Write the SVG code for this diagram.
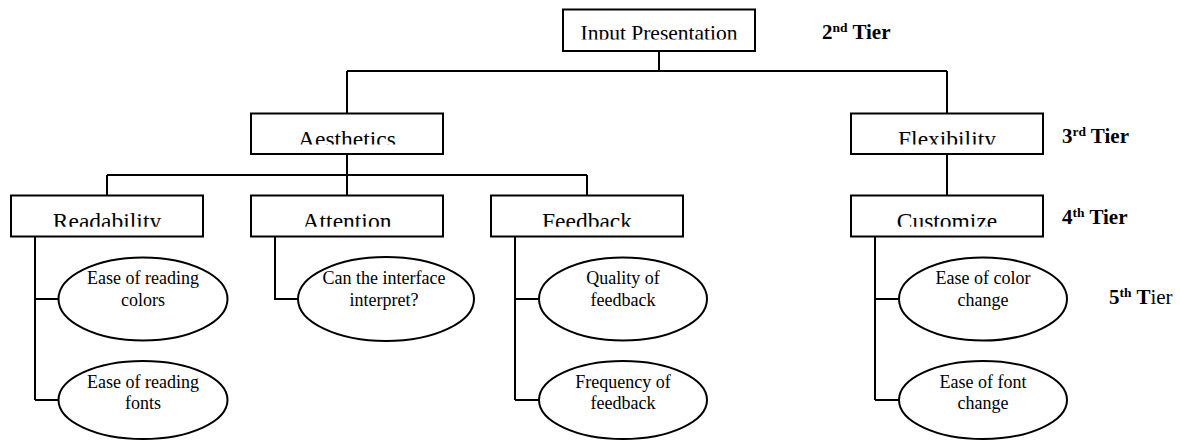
<svg xmlns="http://www.w3.org/2000/svg" width="1180" height="440" viewBox="0 0 1180 440">
  <style>
    .box { fill: #fff; stroke: #000; stroke-width: 2; }
    .oval { fill: #fff; stroke: #000; stroke-width: 2; }
    .wire { fill: none; stroke: #000; stroke-width: 2; }
    .lbl { font-family: "Liberation Serif", "Times New Roman", serif; font-size: 23.5px; fill: #000; text-anchor: middle; }
    .top { font-size: 21.5px; }
    .sub { font-family: "Liberation Serif", "Times New Roman", serif; font-size: 18px; fill: #000; text-anchor: middle; }
    .tier { font-family: "Liberation Serif", "Times New Roman", serif; font-size: 21px; font-weight: bold; fill: #000; }
    .sup { font-size: 13.5px; }
    .plain { font-weight: normal; }
  </style>
  <defs>
    <!-- box captions are cut off just above their baseline -->
    <clipPath id="cInput"><rect x="563" y="9" width="192" height="30.5"/></clipPath>
    <clipPath id="cAes"><rect x="251" y="113" width="192" height="31.5"/></clipPath>
    <clipPath id="cFlex"><rect x="851" y="113" width="192" height="31.5"/></clipPath>
    <clipPath id="cRead"><rect x="11" y="195" width="192" height="31.7"/></clipPath>
    <clipPath id="cAtt"><rect x="251" y="195" width="192" height="31.7"/></clipPath>
    <clipPath id="cFeed"><rect x="491" y="195" width="192" height="31.7"/></clipPath>
    <clipPath id="cCust"><rect x="851" y="195" width="192" height="31.7"/></clipPath>
  </defs>

  <g id="connectors">
    <path class="wire" d="M659 51 V71 M347 71 H947 M347 71 V113.5 M947 71 V113.5"/>
    <path class="wire" d="M347 154 V175 M107 175 H587 M107 175 V195.5 M347 175 V195.5 M587 175 V195.5"/>
    <path class="wire" d="M947 154 V195.5"/>
    <path class="wire" d="M35 236.5 V400 M35 299 H58.5 M35 400 H58.5"/>
    <path class="wire" d="M275 236.5 V299 H298"/>
    <path class="wire" d="M515 236.5 V400 M515 299 H539 M515 400 H539"/>
    <path class="wire" d="M875 236.5 V400 M875 299 H899 M875 400 H899"/>
  </g>

  <g id="input-presentation">
    <rect class="box" x="563" y="9.5" width="192" height="41.5"/>
    <text class="lbl top" x="659" y="40" clip-path="url(#cInput)">Input Presentation</text>
  </g>

  <g id="aesthetics">
    <rect class="box" x="251" y="113.5" width="192" height="40.5"/>
    <text class="lbl" x="347" y="146.8" clip-path="url(#cAes)">Aesthetics</text>
  </g>

  <g id="flexibility">
    <rect class="box" x="851" y="113.5" width="192" height="40.5"/>
    <text class="lbl" x="947" y="146.8" clip-path="url(#cFlex)">Flexibility</text>
  </g>

  <g id="readability">
    <rect class="box" x="11" y="195.5" width="192" height="41"/>
    <text class="lbl" x="107" y="229" clip-path="url(#cRead)">Readability</text>
  </g>

  <g id="attention">
    <rect class="box" x="251" y="195.5" width="192" height="41"/>
    <text class="lbl" x="347" y="229" clip-path="url(#cAtt)">Attention</text>
  </g>

  <g id="feedback">
    <rect class="box" x="491" y="195.5" width="192" height="41"/>
    <text class="lbl" x="587" y="229" clip-path="url(#cFeed)">Feedback</text>
  </g>

  <g id="customize">
    <rect class="box" x="851" y="195.5" width="192" height="41"/>
    <text class="lbl" x="947" y="229" clip-path="url(#cCust)">Customize</text>
  </g>

  <g id="reading-colors">
    <ellipse class="oval" cx="143" cy="299" rx="84.5" ry="41.5"/>
    <text class="sub" x="143" y="284">Ease of reading</text>
    <text class="sub" x="143" y="306">colors</text>
  </g>

  <g id="reading-fonts">
    <ellipse class="oval" cx="143" cy="400" rx="84.5" ry="39"/>
    <text class="sub" x="143" y="388.3">Ease of reading</text>
    <text class="sub" x="143" y="409">fonts</text>
  </g>

  <g id="interface-interpret">
    <ellipse class="oval" cx="386" cy="299" rx="88" ry="42"/>
    <text class="sub" x="384" y="284">Can the interface</text>
    <text class="sub" x="384" y="306">interpret?</text>
  </g>

  <g id="feedback-quality">
    <ellipse class="oval" cx="623" cy="299" rx="84" ry="41.5"/>
    <text class="sub" x="623" y="284">Quality of</text>
    <text class="sub" x="623" y="306">feedback</text>
  </g>

  <g id="feedback-frequency">
    <ellipse class="oval" cx="623" cy="400" rx="84" ry="39"/>
    <text class="sub" x="623" y="388.3">Frequency of</text>
    <text class="sub" x="623" y="409">feedback</text>
  </g>

  <g id="color-change">
    <ellipse class="oval" cx="983" cy="299" rx="84" ry="41.5"/>
    <text class="sub" x="983" y="284">Ease of color</text>
    <text class="sub" x="983" y="306">change</text>
  </g>

  <g id="font-change">
    <ellipse class="oval" cx="983" cy="400" rx="84" ry="39"/>
    <text class="sub" x="983" y="388.3">Ease of font</text>
    <text class="sub" x="983" y="409">change</text>
  </g>

  <g id="tier-labels">
    <text class="tier" x="822" y="39">2<tspan class="sup" dy="-7">nd</tspan><tspan dy="7"> Tier</tspan></text>
    <text class="tier" x="1062" y="143">3<tspan class="sup" dy="-7">rd</tspan><tspan dy="7"> Tier</tspan></text>
    <text class="tier" x="1062" y="224">4<tspan class="sup" dy="-7">th</tspan><tspan dy="7"> Tier</tspan></text>
    <text class="tier" x="1109" y="304">5<tspan class="sup" dy="-7">th</tspan><tspan dy="7"> T</tspan><tspan class="plain">ier</tspan></text>
  </g>
</svg>
